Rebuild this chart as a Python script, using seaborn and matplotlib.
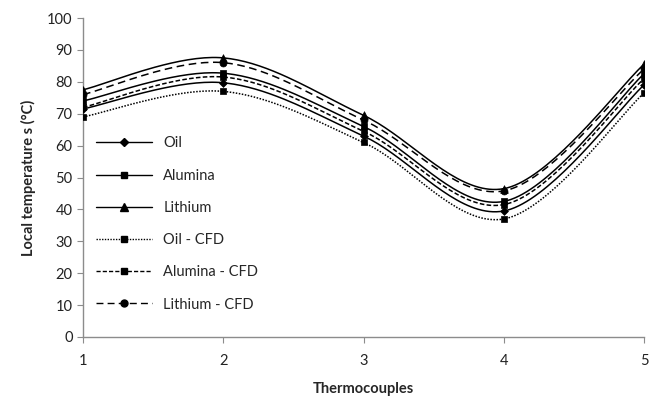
import numpy as np
import pandas as pd
import matplotlib
matplotlib.use("Agg")
import matplotlib.pyplot as plt
from matplotlib.lines import Line2D
import seaborn as sns

thermocouples = [1, 2, 3, 4, 5]
oil = [71.5, 79.7, 63.0, 39.5, 79.0]
alumina = [74.0, 82.7, 66.0, 42.5, 82.5]
lithium = [77.5, 87.5, 69.5, 46.5, 85.5]
oil_cfd = [69.0, 77.0, 61.0, 37.0, 76.5]
alumina_cfd = [72.0, 81.5, 64.5, 41.5, 81.0]
lithium_cfd = [76.0, 86.0, 68.0, 45.8, 84.0]

series = [
    ("Oil", oil, "-", "D", 4),
    ("Alumina", alumina, "-", "s", 5),
    ("Lithium", lithium, "-", "^", 5.5),
    ("Oil - CFD", oil_cfd, (0, (1, 1)), "s", 5),
    ("Alumina - CFD", alumina_cfd, (0, (3, 1.5)), "s", 5),
    ("Lithium - CFD", lithium_cfd, (0, (5, 3)), "o", 5),
]


def smooth(xs, ys, n=40):
    """Excel-like smoothed line (Catmull-Rom Bezier) through the data points."""
    P = np.column_stack([xs, ys]).astype(float)
    out = []
    for i in range(len(P) - 1):
        p0 = P[i - 1] if i > 0 else P[i]
        p1, p2 = P[i], P[i + 1]
        p3 = P[i + 2] if i + 2 < len(P) else P[i + 1]
        c1 = p1 + (p2 - p0) / 6.0
        c2 = p2 - (p3 - p1) / 6.0
        t = np.linspace(0, 1, n)[:, None]
        seg = ((1 - t) ** 3) * p1 + 3 * ((1 - t) ** 2) * t * c1 + 3 * (1 - t) * t ** 2 * c2 + t ** 3 * p2
        out.append(seg if i == 0 else seg[1:])
    arr = np.vstack(out)
    return arr[:, 0], arr[:, 1]


sns.set_style("white")
plt.rcParams["font.family"] = ["Lato", "DejaVu Sans"]

fig = plt.figure(figsize=(6.63, 3.99), dpi=100)
ax = fig.add_axes([83 / 663, 62 / 399, (644 - 83) / 663, (337 - 18) / 399])

handles = []
for name, vals, ls, mk, ms in series:
    sx, sy = smooth(thermocouples, vals)
    sns.lineplot(x=sx, y=sy, ax=ax, color="black", linewidth=1.1, linestyle=ls,
                 sort=False, estimator=None, legend=False)
    sns.scatterplot(x=thermocouples, y=vals, ax=ax, color="black", marker=mk,
                    s=ms ** 2, edgecolor="black", linewidth=0.5, legend=False, zorder=3)
    handles.append(Line2D([0], [0], color="black", linewidth=1.0, linestyle=ls,
                          marker=mk, markersize=ms, label=name))

ax.set_xlim(1, 5)
ax.set_ylim(0, 100)
ax.set_xticks(thermocouples)
ax.set_xticklabels([str(t) for t in thermocouples])
ax.set_yticks(range(0, 101, 10))
for s in ["top", "right"]:
    ax.spines[s].set_visible(False)
for s in ["left", "bottom"]:
    ax.spines[s].set_color("#8c8c8c")
    ax.spines[s].set_linewidth(1.0)
ax.tick_params(axis="both", which="both", direction="out", length=4, width=0.8,
               color="#8c8c8c", labelsize=10.5, labelcolor="#222222", left=True, bottom=True)
ax.tick_params(axis="x", pad=8)
ax.set_xlabel("Thermocouples", fontsize=10.5, fontweight="bold", labelpad=10)
ax.set_ylabel("Local temperature s (°C)", fontsize=10.5, fontweight="bold", labelpad=8)

leg = ax.legend(handles=handles, loc="upper left", bbox_to_anchor=(0.0, 0.67),
                frameon=False, fontsize=10.5, handlelength=3.8, labelspacing=1.25,
                handletextpad=0.8, borderaxespad=0.5)

fig.savefig("out.png", dpi=100, facecolor="white")
